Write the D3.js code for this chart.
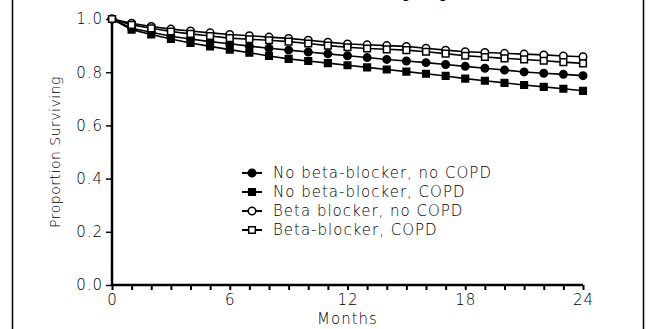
<!DOCTYPE html>
<html>
<head>
<meta charset="utf-8">
<script src="https://cdn.jsdelivr.net/npm/d3@7"></script>
<style>
  body { margin: 0; background: #fff; }
  svg { display: block; }
  text { font-family: "DejaVu Sans", sans-serif; font-weight: 200; fill: #000; }
</style>
</head>
<body>
<div id="chart"></div>
<script>
// months 0..24
var months = d3.range(0, 25);
var seriesNames = ["No beta-blocker, no COPD", "No beta-blocker, COPD", "Beta blocker, no COPD", "Beta-blocker, COPD"];
var noBBnoCOPD = [1.0, 0.965, 0.950, 0.935, 0.925, 0.915, 0.907, 0.898, 0.890, 0.883, 0.876, 0.869, 0.862, 0.855, 0.848, 0.842, 0.836, 0.829, 0.822, 0.815, 0.808, 0.801, 0.796, 0.792, 0.787];
var noBBCOPD = [1.0, 0.960, 0.942, 0.925, 0.910, 0.897, 0.885, 0.873, 0.861, 0.850, 0.842, 0.834, 0.826, 0.818, 0.810, 0.802, 0.794, 0.786, 0.776, 0.768, 0.760, 0.752, 0.745, 0.738, 0.730];
var bbNoCOPD = [1.0, 0.984, 0.972, 0.962, 0.955, 0.948, 0.942, 0.937, 0.932, 0.927, 0.920, 0.913, 0.906, 0.903, 0.900, 0.897, 0.890, 0.883, 0.877, 0.874, 0.871, 0.868, 0.865, 0.861, 0.858];
var bbCOPD = [1.0, 0.978, 0.965, 0.953, 0.944, 0.936, 0.928, 0.924, 0.920, 0.915, 0.908, 0.900, 0.894, 0.889, 0.886, 0.883, 0.877, 0.870, 0.862, 0.857, 0.852, 0.848, 0.843, 0.838, 0.833];
var xTicks = [0, 6, 12, 18, 24];
var yTicks = [0.0, 0.2, 0.4, 0.6, 0.8, 1.0];

var width = 652, height = 329;
var svg = d3.select("#chart").append("svg")
  .attr("width", width)
  .attr("height", height);

// frame of the original figure (only the sides show)
svg.append("line").attr("x1", 12.5).attr("x2", 12.5).attr("y1", 0).attr("y2", height)
  .attr("stroke", "#000").attr("stroke-width", 1.5);
svg.append("line").attr("x1", 643.5).attr("x2", 643.5).attr("y1", 0).attr("y2", height)
  .attr("stroke", "#000").attr("stroke-width", 1.5);

// bottom of the cut-off caption line above the chart
svg.append("text")
  .attr("x", 510).attr("y", -2)
  .attr("text-anchor", "end")
  .style("font-size", "14px")
  .style("font-weight", "400")
  .text("during drug use [12]");

var x = d3.scaleLinear().domain([0, 24]).range([112, 583]);
var y = d3.scaleLinear().domain([0, 1]).range([285, 19]);

// x axis: minor ticks every month
var xAxis = svg.append("g")
  .attr("transform", "translate(0," + y(0) + ")")
  .call(d3.axisBottom(x).tickValues(months).tickSize(5).tickFormat(function (d) {
    return xTicks.indexOf(d) >= 0 ? d : "";
  }));
xAxis.select(".domain").attr("stroke-width", 2.5).attr("d", "M" + x(0) + ",0H" + x(24));
xAxis.selectAll(".tick line").attr("stroke-width", 2);
xAxis.selectAll("text").style("font-size", "15px").style("letter-spacing", "1px")
  .attr("dy", "0.78em").style("font-family", "DejaVu Sans");

var yAxis = svg.append("g")
  .attr("transform", "translate(" + x(0) + ",0)")
  .call(d3.axisLeft(y).tickValues(yTicks).tickSize(6).tickFormat(d3.format(".1f")));
yAxis.select(".domain").attr("stroke-width", 2.5).attr("d", "M0," + y(0) + "V" + y(1));
yAxis.selectAll(".tick line").attr("stroke-width", 1.5);
yAxis.selectAll("text").style("font-size", "15px").style("letter-spacing", "1px")
  .style("font-family", "DejaVu Sans").attr("x", -9);

svg.append("text")
  .attr("x", x(12)).attr("y", 324)
  .attr("text-anchor", "middle")
  .style("font-size", "15px")
  .style("letter-spacing", "1px")
  .text("Months");

svg.append("text")
  .attr("transform", "translate(60,152) rotate(-90)")
  .attr("text-anchor", "middle")
  .style("font-size", "14px")
  .style("letter-spacing", "0.5px")
  .text("Proportion Surviving");

var series = [
  { name: seriesNames[0], values: noBBnoCOPD, shape: "circle", fill: "#000" },
  { name: seriesNames[1], values: noBBCOPD, shape: "square", fill: "#000" },
  { name: seriesNames[2], values: bbNoCOPD, shape: "circle", fill: "#fff" },
  { name: seriesNames[3], values: bbCOPD, shape: "square", fill: "#fff" }
];

var symbolFor = function (s) {
  return d3.symbol().type(s.shape === "circle" ? d3.symbolCircle : d3.symbolSquare)
    .size(44)();
};

var line = d3.line()
  .x(function (d, i) { return x(months[i]); })
  .y(function (d) { return y(d); });

svg.selectAll(".series-line")
  .data(series)
  .enter()
  .append("path")
  .attr("class", "series-line")
  .attr("d", function (s) { return line(s.values); })
  .attr("fill", "none")
  .attr("stroke", "#000")
  .attr("stroke-width", 1.6);

series.forEach(function (s) {
  svg.append("g").selectAll("path")
    .data(s.values)
    .enter()
    .append("path")
    .attr("transform", function (d, i) { return "translate(" + x(months[i]) + "," + y(d) + ")"; })
    .attr("d", symbolFor(s))
    .attr("fill", s.fill)
    .attr("stroke", "#000")
    .attr("stroke-width", 1.5);
});

// legend
var legendX = 242, legendY = 173, legendSpacing = 19;
var legend = svg.selectAll(".legend")
  .data(series)
  .enter()
  .append("g")
  .attr("class", "legend")
  .attr("transform", function (d, i) {
    return "translate(" + legendX + "," + (legendY + i * legendSpacing) + ")";
  });
legend.append("line")
  .attr("x1", 0).attr("x2", 20)
  .attr("stroke", "#000").attr("stroke-width", 2);
legend.append("path")
  .attr("transform", "translate(10,0)")
  .attr("d", function (s) { return symbolFor(s); })
  .attr("fill", function (s) { return s.fill; })
  .attr("stroke", "#000")
  .attr("stroke-width", 1.5);
legend.append("text")
  .attr("x", 31)
  .attr("y", 5)
  .style("font-size", "15px")
  .style("letter-spacing", "1px")
  .text(function (s) { return s.name; });
</script>
</body>
</html>
